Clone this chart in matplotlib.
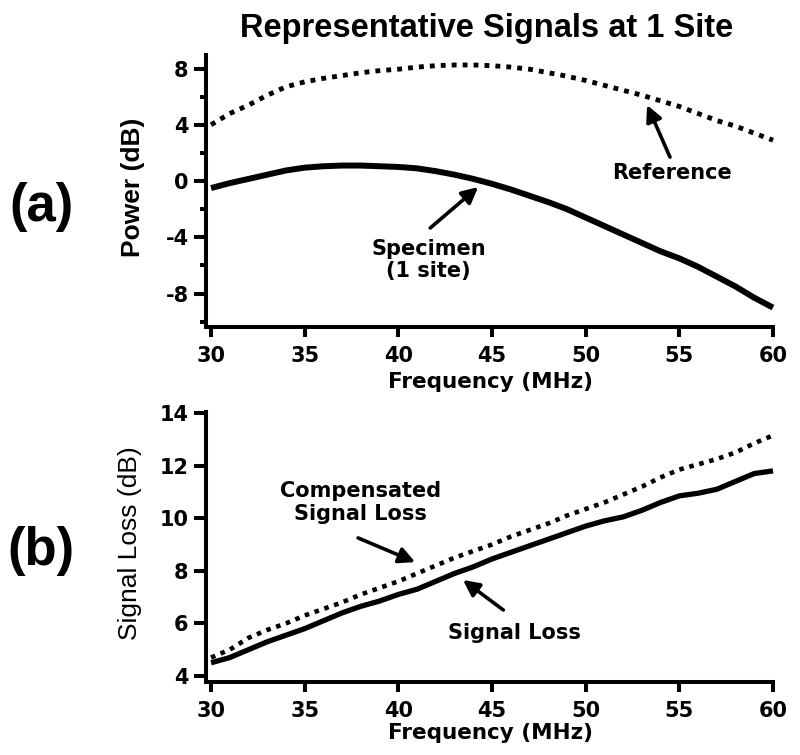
import matplotlib
matplotlib.use("Agg")
import matplotlib.pyplot as plt
from matplotlib.ticker import MultipleLocator

plt.rcParams["axes.unicode_minus"] = False

# ---------------- data ----------------
freq = [30, 31, 32, 33, 34, 35, 36, 37, 38, 39, 40, 41, 42, 43, 44, 45,
        46, 47, 48, 49, 50, 51, 52, 53, 54, 55, 56, 57, 58, 59, 60]
reference = [4.0, 4.8, 5.4, 6.1, 6.7, 7.05, 7.3, 7.5, 7.7, 7.85, 7.95, 8.1, 8.2, 8.25, 8.25, 8.2,
             8.1, 7.95, 7.7, 7.45, 7.15, 6.8, 6.45, 6.1, 5.7, 5.3, 4.8, 4.3, 3.9, 3.4, 2.9]
specimen = [-0.5, -0.15, 0.15, 0.45, 0.75, 0.95, 1.05, 1.1, 1.1, 1.05, 1.0, 0.9, 0.7, 0.45, 0.15, -0.2,
            -0.6, -1.05, -1.5, -2.0, -2.6, -3.2, -3.8, -4.4, -5.0, -5.5, -6.1, -6.8, -7.5, -8.3, -9.0]
signal_loss = [4.5, 4.7, 5.0, 5.3, 5.55, 5.8, 6.1, 6.4, 6.65, 6.85, 7.1, 7.3, 7.6, 7.9, 8.15, 8.45,
               8.7, 8.95, 9.2, 9.45, 9.7, 9.9, 10.05, 10.3, 10.6, 10.85, 10.95, 11.1, 11.4, 11.7, 11.8]
compensated = [4.7, 5.0, 5.45, 5.75, 6.0, 6.3, 6.55, 6.8, 7.1, 7.35, 7.6, 7.9, 8.2, 8.5, 8.75, 9.0,
               9.3, 9.55, 9.8, 10.1, 10.35, 10.6, 10.9, 11.2, 11.55, 11.85, 12.05, 12.25, 12.5, 12.85, 13.15]
x_ticks = [30, 35, 40, 45, 50, 55, 60]
top_yticks = [-8, -4, 0, 4, 8]
bot_yticks = [4, 6, 8, 10, 12, 14]

W, H = 800, 755
fig = plt.figure(figsize=(W / 100, H / 100), dpi=100)

def fx(px):
    return px / W

def fy(py):
    return 1 - py / H

TICK_FAMILY = "DejaVu Sans"
TICK_SIZE = 15
ANNFONT = dict(family="DejaVu Sans", weight="bold", size=15)
SPINE_LW = 2.9

ax1 = fig.add_axes([fx(206), fy(327), fx(773) - fx(206), fy(55) - fy(327)])
ax2 = fig.add_axes([fx(206), fy(682), fx(773) - fx(206), fy(412) - fy(682)])

def style_ticklabels(ax):
    for lab in ax.get_xticklabels() + ax.get_yticklabels():
        lab.set_fontfamily(TICK_FAMILY)
        lab.set_fontweight("bold")
        lab.set_fontsize(TICK_SIZE)

for ax in (ax1, ax2):
    for s in ("top", "right"):
        ax.spines[s].set_visible(False)
    for s in ("left", "bottom"):
        ax.spines[s].set_linewidth(SPINE_LW)
        ax.spines[s].set_capstyle("projecting")
    ax.set_xlim(29.73, 60)
    ax.set_xticks(x_ticks)
    ax.tick_params(axis="both", which="major", length=8.5, width=SPINE_LW, direction="out")

# ---- top panel ----
ax1.plot(freq, reference, color="black", lw=3.5, linestyle=(0, (1, 1.25)),
         dash_capstyle="butt", clip_on=False)
ax1.plot(freq, specimen, color="black", lw=4.3, solid_capstyle="butt", clip_on=False)
ax1.set_ylim(-10.38, 8.96)
ax1.set_yticks(top_yticks)
ax1.yaxis.set_minor_locator(MultipleLocator(2))
ax1.tick_params(axis="y", which="minor", length=4.5, width=SPINE_LW)
ax1.tick_params(axis="y", which="major", pad=4)
ax1.tick_params(axis="x", which="major", pad=7, length=7)
style_ticklabels(ax1)

ax1.set_ylabel("Power (dB)", family="Liberation Sans", weight="bold", fontsize=19, va="center")
ax1.yaxis.set_label_coords(fx(133), fy(187), transform=fig.transFigure)
ax1.set_xlabel("Frequency (MHz)", family="DejaVu Sans", weight="bold", fontsize=15.5, va="baseline")
ax1.xaxis.set_label_coords(fx(490), fy(388), transform=fig.transFigure)

arrow = dict(arrowstyle="-|>", color="black", lw=2.6, mutation_scale=24, shrinkA=0, shrinkB=0)
ax1.annotate("", xy=(53.28, 5.40), xytext=(54.5, 1.7), arrowprops=arrow)
ax1.text(54.6, 0.57, "Reference", ha="center", va="center", **ANNFONT)
ax1.annotate("", xy=(44.26, -0.43), xytext=(41.7, -3.34), arrowprops=arrow)
ax1.text(41.6, -5.6, "Specimen\n(1 site)", ha="center", va="center", linespacing=1.15, **ANNFONT)

# ---- bottom panel ----
ax2.plot(freq, compensated, color="black", lw=3.3, linestyle=(0, (1, 1.25)),
         dash_capstyle="butt", clip_on=False)
ax2.plot(freq, signal_loss, color="black", lw=3.8, solid_capstyle="butt", clip_on=False)
ax2.set_ylim(3.77, 14.04)
ax2.set_yticks(bot_yticks)
ax2.tick_params(axis="y", which="major", pad=4)
ax2.tick_params(axis="x", which="major", pad=7, length=7)
style_ticklabels(ax2)

ax2.set_ylabel("Signal Loss (dB)", family="Liberation Sans", weight="normal", fontsize=19, va="center")
ax2.yaxis.set_label_coords(fx(130), fy(543), transform=fig.transFigure)
ax2.set_xlabel("Frequency (MHz)", family="DejaVu Sans", weight="bold", fontsize=15.5, va="baseline")
ax2.xaxis.set_label_coords(fx(490), fy(739), transform=fig.transFigure)

ax2.annotate("", xy=(40.9, 8.33), xytext=(37.85, 9.25), arrowprops=arrow)
ax2.text(37.96, 10.6, "Compensated\nSignal Loss", ha="center", va="center", linespacing=1.15, **ANNFONT)
ax2.annotate("", xy=(43.45, 7.65), xytext=(45.6, 6.51), arrowprops=arrow)
ax2.text(46.18, 5.63, "Signal Loss", ha="center", va="center", **ANNFONT)

# ---- figure texts ----
fig.text(fx(487), fy(37), "Representative Signals at 1 Site", ha="center", va="baseline",
         family="Liberation Sans", weight="bold", fontsize=23.5)
fig.text(fx(41), fy(207), "(a)", ha="center", va="center", family="Liberation Sans",
         weight="bold", fontsize=38)
fig.text(fx(41), fy(551), "(b)", ha="center", va="center", family="Liberation Sans",
         weight="bold", fontsize=38)

fig.savefig("out.png", dpi=100, facecolor="white")
